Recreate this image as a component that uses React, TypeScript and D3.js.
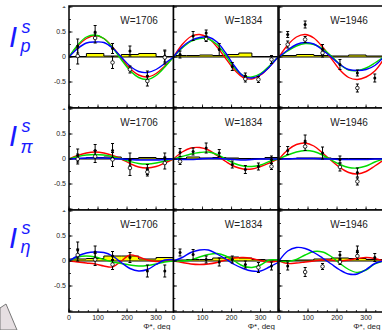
import * as d3 from "d3";

const phiGrid = [0, 30, 60, 90, 120, 150, 180, 210, 240, 270, 300, 330, 360];
const energyLabels = ["W=1706", "W=1834", "W=1946"];
const binCounts = [6, 8, 6];
const xTickLabels = [0, 100, 200, 300];
const yTickLabels = [-0.5, 0, 0.5];

// model curves, rows: I^s_p, I^s_pi, I^s_eta ; each has 3 energies
const redP = [
  [0, 0.22, 0.37, 0.43, 0.37, 0.2, -0.02, -0.23, -0.36, -0.4, -0.33, -0.18, 0],
  [0, 0.25, 0.41, 0.45, 0.38, 0.2, -0.03, -0.26, -0.41, -0.44, -0.36, -0.2, 0],
  [0, 0.24, 0.4, 0.45, 0.38, 0.2, -0.03, -0.26, -0.41, -0.45, -0.4, -0.28, -0.05],
];
const greenP = [
  [0, 0.24, 0.4, 0.44, 0.37, 0.19, -0.05, -0.27, -0.41, -0.45, -0.37, -0.2, 0],
  [0, 0.18, 0.31, 0.37, 0.36, 0.25, 0.03, -0.22, -0.37, -0.4, -0.33, -0.18, 0],
  [0, 0.12, 0.22, 0.27, 0.25, 0.17, 0.02, -0.15, -0.26, -0.27, -0.22, -0.12, 0],
];
const blueP = [
  [0, 0.17, 0.28, 0.3, 0.29, 0.18, 0, -0.18, -0.29, -0.31, -0.25, -0.13, 0],
  [0, 0.2, 0.33, 0.39, 0.4, 0.3, 0.08, -0.18, -0.38, -0.42, -0.35, -0.2, 0],
  [0, 0.14, 0.25, 0.29, 0.26, 0.14, 0, -0.15, -0.25, -0.27, -0.25, -0.17, 0],
];
const redPi = [
  [0, 0.07, 0.12, 0.14, 0.12, 0.07, 0, -0.09, -0.16, -0.18, -0.15, -0.08, 0],
  [0, 0.14, 0.22, 0.23, 0.18, 0.07, -0.05, -0.15, -0.2, -0.2, -0.15, -0.08, 0],
  [0, 0.18, 0.29, 0.32, 0.26, 0.12, -0.03, -0.17, -0.27, -0.3, -0.25, -0.14, -0.02],
];
const greenPi = [
  [0, 0.05, 0.08, 0.09, 0.08, 0.05, 0, -0.05, -0.09, -0.1, -0.08, -0.04, 0],
  [0, 0.05, 0.1, 0.13, 0.14, 0.09, 0, -0.09, -0.14, -0.15, -0.12, -0.05, 0],
  [0, 0.08, 0.14, 0.17, 0.15, 0.08, -0.02, -0.11, -0.17, -0.18, -0.14, -0.06, 0],
];
const bluePi = [
  [0, 0.01, 0.02, 0.02, 0.02, 0.01, 0, -0.01, -0.02, -0.02, -0.02, -0.01, 0],
  [0, -0.01, -0.01, 0, 0.01, 0.01, 0, -0.01, -0.02, -0.01, 0, 0, 0],
  [0, 0, 0.01, 0.01, 0.01, 0, 0, -0.01, -0.01, -0.01, -0.01, 0, 0],
];
const redEta = [
  [0, -0.02, -0.04, -0.06, -0.1, -0.12, 0, 0.12, 0.08, 0.02, -0.01, 0, 0.01],
  [0, -0.03, -0.06, -0.07, -0.06, -0.03, 0.02, 0.06, 0.07, 0.05, 0.01, -0.02, 0],
  [0, -0.05, -0.04, -0.02, 0, 0.02, 0.02, 0, 0.02, 0.05, 0.07, 0.05, 0],
];
const greenEta = [
  [0, 0.08, 0.1, 0.08, 0.03, -0.02, -0.05, -0.08, -0.1, -0.09, -0.06, -0.02, 0],
  [0, 0, 0.02, 0.08, 0.13, 0.15, 0.1, 0, -0.1, -0.13, -0.08, 0.02, 0.02],
  [0, -0.01, 0.03, 0.12, 0.19, 0.18, 0.09, -0.05, -0.17, -0.23, -0.18, -0.06, 0],
];
const blueEta = [
  [0, 0.1, 0.16, 0.18, 0.17, 0.1, -0.03, -0.15, -0.2, -0.17, -0.07, 0.02, 0.03],
  [0, 0.07, 0.17, 0.22, 0.22, 0.14, 0.04, -0.07, -0.15, -0.2, -0.2, -0.12, -0.03],
  [0, 0.2, 0.27, 0.25, 0.17, 0.06, -0.06, -0.18, -0.26, -0.26, -0.17, -0.05, 0],
];

// data points [value, error] per bin, filled and open markers
type Pt = [number, number] | null;
const filledP: Pt[][] = [
  [[0.22, 0.14], [0.5, 0.13], [0.17, 0.1], [0.12, 0.1], [-0.38, 0.1], [0.02, 0.12]],
  [[0.05, 0.07], [0.42, 0.09], [0.48, 0.06], [0.15, 0.12], [-0.19, 0.08], [-0.38, 0.06], null, null],
  [[0.45, 0.06], [0.65, 0.07], [0.15, 0.1], [-0.15, 0.1], [-0.32, 0.06], [-0.42, 0.08]],
];
const openP: Pt[][] = [
  [[0.02, 0.16], [0.38, 0.1], [-0.11, 0.12], [-0.25, 0.07], [-0.48, 0.1], [-0.01, 0.13]],
  [null, null, [0.36, 0.05], null, null, [-0.44, 0.06], [-0.45, 0.06], [-0.05, 0.08]],
  [[0.25, 0.07], [0.35, 0.06], [0.08, 0.08], null, [-0.62, 0.08], null],
];
const filledPi: Pt[][] = [
  [[0.07, 0.13], [0.17, 0.12], [0.17, 0.14], [-0.01, 0.13], [-0.21, 0.1], [0.02, 0.1]],
  [[0.13, 0.08], [0.15, 0.07], [0.22, 0.1], [0.12, 0.07], [-0.11, 0.07], [-0.21, 0.08], [-0.15, 0.07], [-0.01, 0.07]],
  [[0.17, 0.08], [0.36, 0.12], [0.12, 0.12], [-0.01, 0.07], [-0.27, 0.09], null],
];
const openPi: Pt[][] = [
  [[0, 0.1], [0.05, 0.12], [-0.01, 0.14], [-0.18, 0.15], [-0.26, 0.08], [-0.08, 0.12]],
  [[-0.05, 0.06], null, null, null, null, null, null, [-0.15, 0.06]],
  [null, [0.25, 0.08], null, [-0.16, 0.08], [-0.45, 0.07], null],
];
const filledEta: Pt[][] = [
  [[0.22, 0.16], [0.18, 0.12], [0.1, 0.09], [0.07, 0.1], [-0.2, 0.12], [-0.2, 0.12]],
  [[0.17, 0.07], [0.13, 0.1], [0.03, 0.07], [-0.02, 0.08], [0.03, 0.07], [-0.07, 0.07], null, [-0.1, 0.08]],
  [[-0.1, 0.08], null, null, [0.12, 0.07], [0.2, 0.1], [0.07, 0.08]],
];
const openEta: Pt[][] = [
  [[0.12, 0.12], [0.03, 0.12], [-0.07, 0.1], null, null, null],
  [null, null, null, null, null, null, [-0.13, 0.1], null],
  [null, [-0.22, 0.09], [-0.11, 0.06], [-0.02, 0.05], [0.1, 0.07], null],
];

// systematic histograms
const systP = [
  [0.01, 0.07, 0.02, 0.05, 0.07, 0.01],
  [0.03, 0.03, 0.04, 0.03, 0.05, 0.08, 0.01, 0.01],
  [0.03, 0.05, 0.03, 0.02, 0.04, 0.02],
];
const systPi = [
  [0.01, 0.03, 0.04, 0.01, 0.03, 0.01],
  [0.01, 0.04, 0.02, 0.03, 0.02, 0.01, 0.01, 0.03],
  [0.01, 0.02, 0.02, 0.01, 0.01, 0.01],
];
const systEta = [
  [0.04, 0.05, 0.1, 0.1, 0.04, 0.07],
  [0.02, 0.03, 0.03, 0.06, 0.08, 0.06, 0.03, 0.02],
  [0.01, 0.02, 0.04, 0.06, 0.05, 0.03],
];

const rows = [
  { red: redP, green: greenP, blue: blueP, filled: filledP, open: openP, syst: systP },
  { red: redPi, green: greenPi, blue: bluePi, filled: filledPi, open: openPi, syst: systPi },
  { red: redEta, green: greenEta, blue: blueEta, filled: filledEta, open: openEta, syst: systEta },
];

const COL_LEFT = [69, 173.5, 279];
const COL_W = 104.5;
const ROW_TOP = [6, 108, 210];
const ROW_H = 102;
const FONT = "'Liberation Sans', Arial, Helvetica, sans-serif";
const LABEL_BLUE = "#1a1aff";

function Panel({ r, c }: { r: number; c: number }) {
  const row = rows[r];
  const left = COL_LEFT[c];
  const top = ROW_TOP[r];
  const x = d3.scaleLinear().domain([0, 360]).range([left, left + COL_W]);
  const y = d3.scaleLinear().domain([-1.02, 1.02]).range([top + ROW_H, top]);
  const nb = binCounts[c];
  const binW = 360 / nb;
  const centers = d3.range(nb).map((i) => (i + 0.5) * binW);
  const clipId = `clip-${r}-${c}`;

  const line = d3
    .line<number>()
    .x((_, i) => x(phiGrid[i]))
    .y((v) => y(v))
    .curve(d3.curveCatmullRom.alpha(0.5));

  const syst = row.syst[c];
  const stepPts: [number, number][] = [[0, 0]];
  syst.forEach((v, i) => {
    stepPts.push([i * binW, v]);
    stepPts.push([(i + 1) * binW, v]);
  });
  stepPts.push([360, 0]);
  const step = d3
    .line<[number, number]>()
    .x((d) => x(d[0]))
    .y((d) => y(d[1]));

  const majorY = [-1, -0.5, 0, 0.5, 1];
  const minorY = d3.range(-1, 1.001, 0.25);
  const minorX = d3.range(0, 360, 100 / 3);

  const drawPts = (pts: Pt[], open: boolean) =>
    pts.map((p, i) => {
      if (!p) return null;
      const cx = x(centers[i]);
      const [v, e] = p;
      return (
        <g key={`${open ? "o" : "f"}${i}`}>
          <line x1={cx} x2={cx} y1={y(v - e)} y2={y(v + e)} stroke="#000" strokeWidth={1} />
          <line x1={cx - 1.5} x2={cx + 1.5} y1={y(v - e)} y2={y(v - e)} stroke="#000" strokeWidth={1} />
          <line x1={cx - 1.5} x2={cx + 1.5} y1={y(v + e)} y2={y(v + e)} stroke="#000" strokeWidth={1} />
          {open ? (
            <circle cx={cx} cy={y(v)} r={1.8} fill="#fff" stroke="#000" strokeWidth={0.8} />
          ) : (
            <circle cx={cx} cy={y(v)} r={1.5} fill="#000" />
          )}
        </g>
      );
    });

  return (
    <g>
      <defs>
        <clipPath id={clipId}>
          <rect x={left} y={top} width={COL_W} height={ROW_H} />
        </clipPath>
      </defs>
      <rect x={left} y={top} width={COL_W} height={ROW_H} fill="#fff" />
      <g clipPath={`url(#${clipId})`}>
        {syst.map((v, i) => (
          <rect
            key={i}
            x={x(i * binW)}
            width={x((i + 1) * binW) - x(i * binW)}
            y={y(Math.max(v, 0))}
            height={Math.abs(y(v) - y(0))}
            fill="#ffff00"
          />
        ))}
        <path d={step(stepPts) ?? ""} fill="none" stroke="#000" strokeWidth={1} />
        <line x1={x(0)} x2={x(360)} y1={y(0)} y2={y(0)} stroke="#000" strokeWidth={1} />
        <path d={line(row.red[c]) ?? ""} fill="none" stroke="#ff0000" strokeWidth={1.4} />
        <path d={line(row.green[c]) ?? ""} fill="none" stroke="#00dd00" strokeWidth={1.4} />
        <path d={line(row.blue[c]) ?? ""} fill="none" stroke="#0000ff" strokeWidth={1.4} />
        {drawPts(row.filled[c], false)}
        {drawPts(row.open[c], true)}
      </g>
      {/* axis ticks, drawn inward */}
      {minorY.map((t) => (
        <line key={`my${t}`} x1={left} x2={left + 2} y1={y(t)} y2={y(t)} stroke="#000" strokeWidth={0.8} />
      ))}
      {majorY.map((t) => (
        <line key={`My${t}`} x1={left} x2={left + 3.5} y1={y(t)} y2={y(t)} stroke="#000" strokeWidth={0.8} />
      ))}
      {minorX.map((t) => (
        <line key={`mx${t}`} x1={x(t)} x2={x(t)} y1={top + ROW_H} y2={top + ROW_H - 2} stroke="#000" strokeWidth={0.8} />
      ))}
      {xTickLabels.map((t) => (
        <line key={`Mx${t}`} x1={x(t)} x2={x(t)} y1={top + ROW_H} y2={top + ROW_H - 3.5} stroke="#000" strokeWidth={0.8} />
      ))}
      <rect x={left} y={top} width={COL_W} height={ROW_H} fill="none" stroke="#000" strokeWidth={1.5} />
      <text x={left + 70} y={top + 17.5} textAnchor="middle" fontSize={10} fontFamily={FONT} fill="#222">
        {energyLabels[c]}
      </text>
      {c === 0 && (
        <g fontFamily={FONT} fontSize={7} fill="#222" textAnchor="end">
          {yTickLabels.map((t) => (
            <text key={t} x={left - 3} y={y(t)} dy="0.35em">
              {t === 0 ? "0" : String(t)}
            </text>
          ))}
          <clipPath id={`lab-${r}`}>
            <rect x={0} y={top} width={left} height={ROW_H} />
          </clipPath>
          <text x={left - 3} y={y(1.02)} dy="0.35em" clipPath={`url(#lab-${r})`}>
            1
          </text>
        </g>
      )}
      {r === 2 && (
        <g fontFamily={FONT} fill="#222">
          {xTickLabels.map((t) => (
            <text key={t} x={x(t)} y={top + ROW_H + 8} textAnchor="middle" fontSize={7}>
              {t}
            </text>
          ))}
          <text x={left + COL_W - 3} y={top + ROW_H + 16.5} textAnchor="end" fontSize={8}>
            Φ*, deg
          </text>
        </g>
      )}
    </g>
  );
}

const rowLabelSubs = ["p", "π", "η"];

export default function App() {
  return (
    <svg width={382} height={330} style={{ position: "absolute", left: 0, top: 0 }}>
      <rect width={382} height={330} fill="#fff" />
      <polygon points="0,308 6,304 17,330 0,330" fill="#e6dfe2" stroke="#777" strokeWidth={1} />
      {rows.map((_, r) =>
        COL_LEFT.map((__, c) => <Panel key={`${r}-${c}`} r={r} c={c} />)
      )}
      {rowLabelSubs.map((sub, r) => {
        const top = ROW_TOP[r];
        const base = top + 41 - (r > 0 ? 3 : 0);
        return (
          <text key={sub} fill={LABEL_BLUE} fontFamily={FONT} fontStyle="italic">
            <tspan x={9} y={base} fontSize={29}>
              I
            </tspan>
            <tspan x={21.5} y={base - 14} fontSize={18}>
              s
            </tspan>
            <tspan x={20.5} y={base + (r === 1 ? 7 : 5)} fontSize={18}>
              {sub}
            </tspan>
          </text>
        );
      })}
    </svg>
  );
}
